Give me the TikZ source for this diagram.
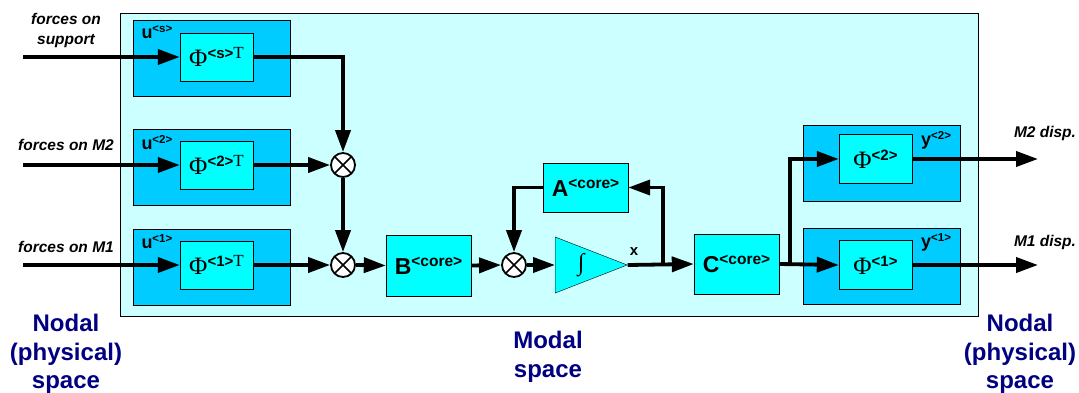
\documentclass[tikz,border=0pt]{standalone}
\usepackage{fontspec}
\setmainfont{Liberation Sans}
\newfontfamily\timesfont{Liberation Serif}
\usetikzlibrary{arrows.meta,shapes.geometric}

\definecolor{modalbg}{HTML}{CCFFFF}
\definecolor{nodalbg}{HTML}{00CCFF}
\definecolor{blockbg}{HTML}{00FFFF}
\definecolor{spacetxt}{HTML}{000080}

% block labels
\newcommand{\phiblk}[2]{{\timesfont\fontsize{25}{25}\selectfont Φ}\raisebox{8pt}{{\bfseries\fontsize{15}{15}\selectfont #1}{\timesfont\fontsize{17}{17}\selectfont #2}}}
\newcommand{\coreblk}[1]{{\bfseries\fontsize{23}{23}\selectfont #1}\raisebox{8pt}{\bfseries\fontsize{15.5}{15.5}\selectfont <core>}}
\newcommand{\sigblk}[2]{{\bfseries\fontsize{18}{18}\selectfont #1}\raisebox{6pt}{\bfseries\fontsize{11.5}{11.5}\selectfont <#2>}}

\begin{document}
\begin{tikzpicture}[x=1pt, y=-1pt,
    modalbox/.style={draw, fill=modalbg, minimum width=858pt, minimum height=303pt, inner sep=0pt},
    nodalbox/.style={draw, fill=nodalbg, minimum width=157pt, minimum height=76pt, inner sep=0pt},
    block/.style={draw, fill=blockbg, inner sep=0pt},
    phibox/.style={block, minimum width=73pt, minimum height=48pt},
    corebox/.style={block, minimum width=85pt, minimum height=60pt},
    sum/.style={circle, draw, line width=1.8pt, fill=white, minimum size=24pt, inner sep=0pt,
        path picture={\draw[line width=1.6pt] (path picture bounding box.north west) -- (path picture bounding box.south east)
                      (path picture bounding box.north east) -- (path picture bounding box.south west);}},
    integ/.style={isosceles triangle, isosceles triangle stretches, draw, fill=blockbg, inner sep=0pt,
        minimum width=56pt, minimum height=72pt},
    sig/.style={line width=3.8pt, -{Triangle[length=22pt,width=15pt]}},
    lbl/.style={font=\bfseries\itshape\fontsize{15.5}{20}\selectfont, align=center},
    space/.style={font=\bfseries\fontsize{24}{28.5}\selectfont, text=spacetxt, align=center}
]
\useasboundingbox (0,0) rectangle (1079,392);

% modal space
\node[modalbox] (modal) at (549,164.5) {};

% nodal inputs
\node[nodalbox] (uS) at (212,58) {};
\node[nodalbox] (u2) at (212,167) {};
\node[nodalbox] (u1) at (212,267) {};
\node[phibox] (phS) at (216.5,57) {\phiblk{<s>}{T}};
\node[phibox] (ph2) at (216.5,165) {\phiblk{<2>}{T}};
\node[phibox] (ph1) at (216.5,265) {\phiblk{<1>}{T}};
\node[anchor=north west, inner sep=0pt] (uSl) at ([shift={(8,6)}]uS.north west) {\sigblk{u}{s}};
\node[anchor=north west, inner sep=0pt] (u2l) at ([shift={(8,6)}]u2.north west) {\sigblk{u}{2}};
\node[anchor=north west, inner sep=0pt] (u1l) at ([shift={(8,6)}]u1.north west) {\sigblk{u}{1}};

% nodal outputs
\node[nodalbox] (yT) at (881.5,163) {};
\node[nodalbox] (yB) at (881.5,266) {};
\node[phibox, minimum height=49pt] (phY2) at (875.5,159) {\phiblk{<2>}{}};
\node[phibox, minimum height=49pt] (phY1) at (875.5,265) {\phiblk{<1>}{}};
\node[anchor=north east, inner sep=0pt] (y2l) at ([shift={(-9,6)}]yT.north east) {\sigblk{y}{2}};
\node[anchor=north east, inner sep=0pt] (y1l) at ([shift={(-9,6)}]yB.north east) {\sigblk{y}{1}};

% core model
\node[sum] (s1) at (343,165) {};
\node[sum] (s2) at (343,265) {};
\node[sum] (s3) at (514,265) {};
\node[corebox, minimum height=61pt] (B) at (428.5,265.5) {\coreblk{B}};
\node[corebox, minimum height=49pt] (A) at (585.5,187.5) {\coreblk{A}};
\node[corebox] (C) at (736.5,264) {\coreblk{C}};
\node[integ, anchor=west] (int) at (555,265) {\hspace*{18pt}{\timesfont\fontsize{24}{24}\selectfont ∫}};
\node[font=\bfseries\fontsize{15}{15}\selectfont] (xl) at (634,252) {x};

% free ends
\coordinate (inS) at (23,57);
\coordinate (in2) at (23,165);
\coordinate (in1) at (23,265);
\coordinate (out2) at (1038,159);
\coordinate (out1) at (1038,265);
\coordinate (fb) at (663,265);
\coordinate (split) at (790,265);

% connectors
\draw[sig] (inS) -- (phS.west);
\draw[sig] (in2) -- (ph2.west);
\draw[sig] (in1) -- (ph1.west);
\draw[sig] (phS.east) -| (s1.north);
\draw[sig] (ph2.east) -- (s1.west);
\draw[sig] (s1.south) -- (s2.north);
\draw[sig] (ph1.east) -- (s2.west);
\draw[sig] (s2.east) -- (B.west);
\draw[sig] (B.east) -- (s3.west);
\draw[sig] (s3.east) -- (int.west);
\draw[sig] (int.east) -- (C.west);
\draw[sig] (fb) |- (A.east);
\draw[sig] (A.west) -| (s3.north);
\draw[sig] (C.east) -- (phY1.west);
\draw[sig] (split) |- (phY2.west);
\draw[sig] (phY2.east) -- (out2);
\draw[sig] (phY1.east) -- (out1);

% labels
\node[lbl] (fS) at (66,30) {forces on\\support};
\node[lbl] (f2) at (66,145) {forces on M2};
\node[lbl] (f1) at (66,247) {forces on M1};
\node[lbl] (d2) at (1045,133) {M2 disp.};
\node[lbl] (d1) at (1045,242) {M1 disp.};
\node[space] (nodL) at (66,354) {Nodal\\(physical)\\space};
\node[space] (nodR) at (1020,354) {Nodal\\(physical)\\space};
\node[space] (mod) at (548,357) {Modal\\space};
\end{tikzpicture}
\end{document}
